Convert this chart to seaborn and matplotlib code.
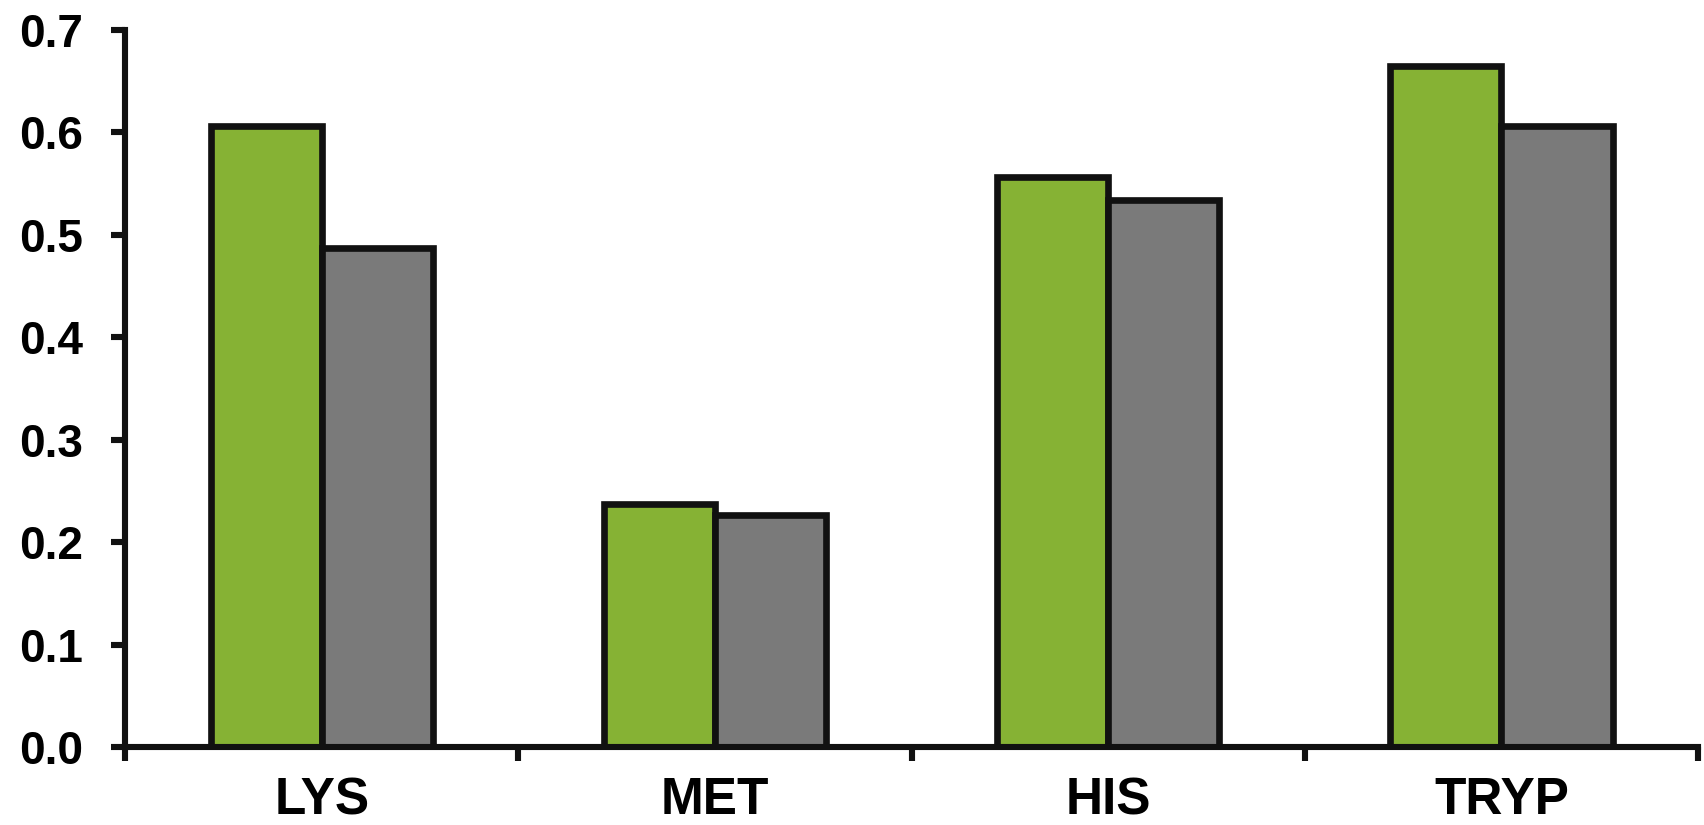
import numpy as np
import pandas as pd
import matplotlib
matplotlib.use('Agg')
import matplotlib.pyplot as plt
import seaborn as sns
from matplotlib.ticker import FixedLocator, FormatStrFormatter

# Data
amino_acids = ['LYS', 'MET', 'HIS', 'TRYP']
series_names = ['A', 'B']
values_a = [0.606, 0.237, 0.557, 0.665]
values_b = [0.487, 0.227, 0.534, 0.606]
bar_colors = ['#86B234', '#7A7A7A']

df = pd.DataFrame({
    'aa': amino_acids * 2,
    'series': [series_names[0]] * 4 + [series_names[1]] * 4,
    'value': values_a + values_b,
})

sns.set_style('white')
plt.rcParams['font.family'] = ['Liberation Sans', 'DejaVu Sans']
plt.rcParams['font.weight'] = 'bold'
plt.rcParams['xtick.bottom'] = True
plt.rcParams['ytick.left'] = True

fig = plt.figure(figsize=(17.04, 8.25), dpi=100)
ax = fig.add_axes([0.0734, 0.0945, 0.9231, 0.8691])

sns.barplot(data=df, x='aa', y='value', hue='series', order=amino_acids,
            hue_order=series_names, palette=bar_colors, width=0.565,
            edgecolor='#111111', linewidth=4.8, saturation=1, legend=False,
            ax=ax)

ax.set_xlim(-0.5, len(amino_acids) - 0.5)
ax.set_ylim(0, 0.7)
ax.set_yticks(np.arange(0, 0.71, 0.1))
ax.yaxis.set_major_formatter(FormatStrFormatter('%.1f'))

# category boundaries carry the ticks, labels sit at the centres
ax.xaxis.set_minor_locator(FixedLocator(np.arange(-0.5, len(amino_acids), 1.0)))
ax.tick_params(axis='x', which='major', length=0, pad=21, labelsize=37,
               labelcolor='black')
ax.tick_params(axis='x', which='minor', length=10, width=4.4, color='#111111',
               direction='out')
ax.tick_params(axis='y', which='major', length=10, width=4.4, color='#111111',
               direction='out', pad=20, labelsize=33, labelcolor='black')

for lab in ax.get_xticklabels() + ax.get_yticklabels():
    lab.set_fontweight('bold')

sns.despine(ax=ax)
for side in ['left', 'bottom']:
    ax.spines[side].set_linewidth(4.4)
    ax.spines[side].set_color('#111111')
    ax.spines[side].set_zorder(5)

ax.set_xlabel('')
ax.set_ylabel('')

fig.savefig('out.png', dpi=100)
